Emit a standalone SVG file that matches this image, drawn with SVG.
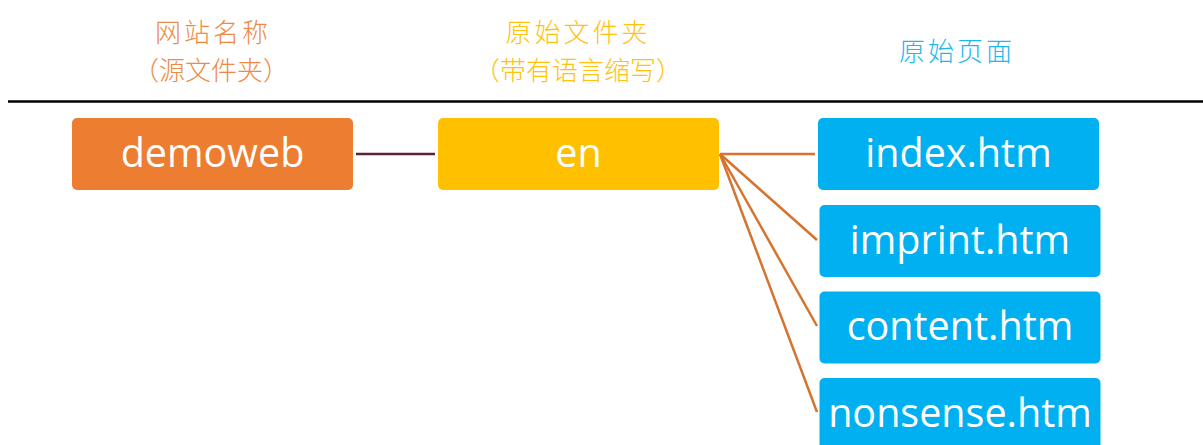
<svg xmlns="http://www.w3.org/2000/svg" width="1203" height="445" viewBox="0 0 1203 445">
<style>
.hd{font-family:"Noto Sans CJK SC","Noto Sans",sans-serif;font-size:26px;font-weight:300;text-anchor:middle;}
.box{font-family:"Open Sans","Noto Sans",sans-serif;font-size:39.5px;fill:#fff;text-anchor:middle;}
.c1{stroke:#5B2340;stroke-width:2.5;fill:none}
.c2{stroke:#D5732F;stroke-width:2.5;fill:none}
</style>
<rect width="1203" height="445" fill="#fff"/>
<g id="headers">
<text class="hd" x="213" y="42" fill="#EE8A45" letter-spacing="3">网站名称</text>
<text class="hd" x="211" y="80" fill="#EE8A45" font-size="27">（源文件夹）</text>
<text class="hd" x="578" y="42" fill="#FFC20E" letter-spacing="3">原始文件夹</text>
<text class="hd" x="578" y="80" fill="#FFC20E" font-size="27">（带有语言缩写）</text>
<text class="hd" x="957" y="61" fill="#1CB8EE" letter-spacing="3">原始页面</text>
</g>
<line x1="8" y1="101.5" x2="1203" y2="101.5" stroke="#000" stroke-width="2.5"/>
<g id="connectors">
<line class="c1" x1="356" y1="154" x2="435" y2="154"/>
<line class="c2" x1="720" y1="154" x2="815" y2="154"/>
<line class="c2" x1="720" y1="154" x2="817" y2="240"/>
<line class="c2" x1="720" y1="154" x2="817" y2="326"/>
<line class="c2" x1="720" y1="154" x2="817" y2="412"/>
</g>
<g id="demoweb"><rect x="72" y="118" width="281" height="72" rx="5" fill="#ED7D31"/><text class="box" x="212.5" y="167">demoweb</text></g>
<g id="en"><rect x="438" y="118" width="281" height="72" rx="5" fill="#FFC000"/><text class="box" x="578.5" y="167">en</text></g>
<g id="index"><rect x="818" y="118" width="281" height="72" rx="5" fill="#00B0F0"/><text class="box" x="958.5" y="167">index.htm</text></g>
<g id="imprint"><rect x="819.5" y="205" width="281" height="72" rx="5" fill="#00B0F0"/><text class="box" x="960" y="254">imprint.htm</text></g>
<g id="content"><rect x="819.5" y="291.5" width="281" height="72" rx="5" fill="#00B0F0"/><text class="box" x="960" y="340">content.htm</text></g>
<g id="nonsense"><rect x="819.5" y="378" width="281" height="72" rx="5" fill="#00B0F0"/><text class="box" x="960" y="427">nonsense.htm</text></g>
</svg>
